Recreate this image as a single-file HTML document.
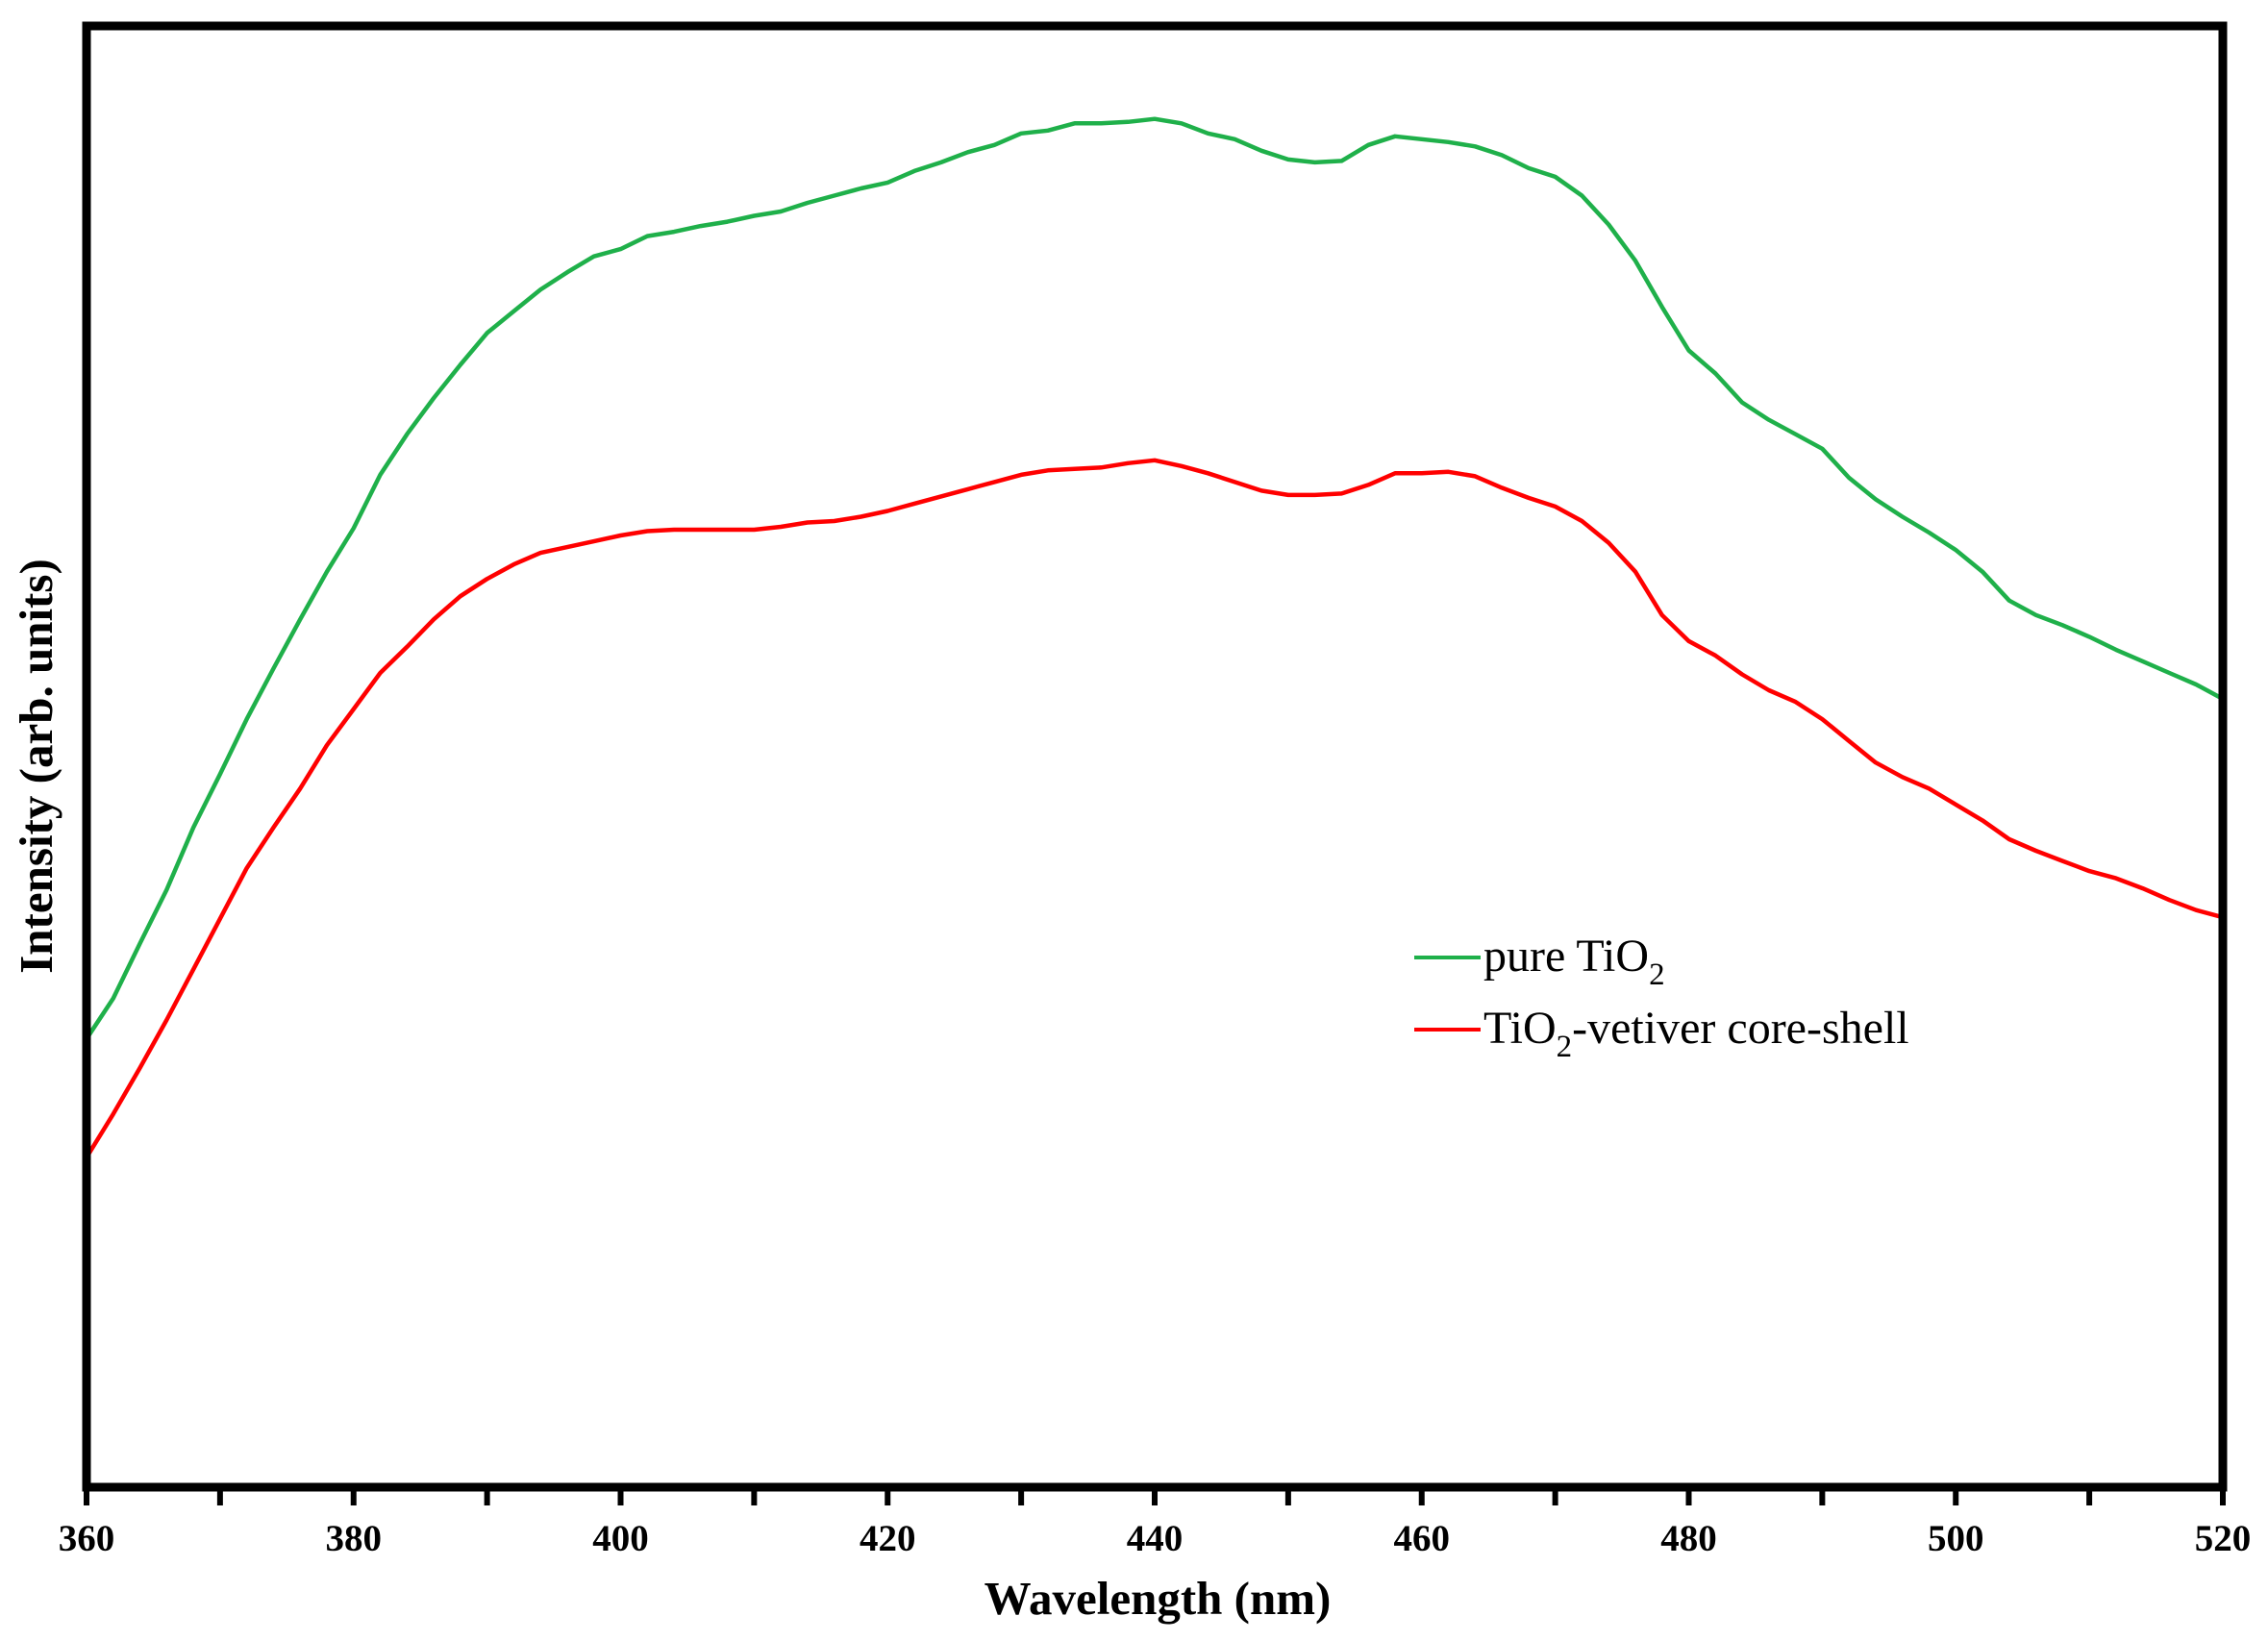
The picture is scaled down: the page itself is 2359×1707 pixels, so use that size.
<!DOCTYPE html>
<html><head><meta charset="utf-8"><style>
body{margin:0;background:#fff}
svg{display:block}
text{font-family:"Liberation Serif",serif;fill:#000}
</style></head><body>
<svg id="chart" width="2359" height="1707" viewBox="0 0 2359 1707">
<g id="ticks"></g>
<g id="lines"></g>
<rect x="90" y="27" width="2222" height="1520" fill="none" stroke="#000" stroke-width="9"/>
<text x="1204" y="1679" font-size="49" font-weight="bold" text-anchor="middle">Wavelength (nm)</text>
<text transform="translate(54,797) rotate(-90)" font-size="49" font-weight="bold" text-anchor="middle">Intensity (arb. units)</text>
<g>
<line x1="1471" y1="996" x2="1540" y2="996" stroke="#1fb04a" stroke-width="4"/>
<text x="1543" y="1010" font-size="48">pure TiO<tspan font-size="33" dy="14">2</tspan></text>
<line x1="1471" y1="1071" x2="1540" y2="1071" stroke="#ff0000" stroke-width="4"/>
<text x="1543" y="1085" font-size="48">TiO<tspan font-size="33" dy="14">2</tspan><tspan dy="-14">-vetiver core-shell</tspan></text>
</g>
</svg>
<script>
const wavelengths=[360,362,364,366,368,370,372,374,376,378,380,382,384,386,388,390,392,394,396,398,400,402,404,406,408,410,412,414,416,418,420,422,424,426,428,430,432,434,436,438,440,442,444,446,448,450,452,454,456,458,460,462,464,466,468,470,472,474,476,478,480,482,484,486,488,490,492,494,496,498,500,502,504,506,508,510,512,514,516,518,520];
const pureY=[718,690,652,615,572,535,497,462,428,395,365,328,300,275,252,230,215,200,188,177,172,163,160,156,153,149,146,140,135,130,126,118,112,105,100,92,90,85,85,84,82,85,92,96,104,110,112,111,100,94,96,98,101,107,116,122,135,155,180,212,242,258,278,290,300,310,330,345,357,368,380,395,415,425,432,440,449,457,465,473,483];
const coreY=[800,770,738,705,670,635,600,572,545,515,490,465,447,428,412,400,390,382,378,374,370,367,366,366,366,366,364,361,360,357,353,348,343,338,333,328,325,324,323,320,318,322,327,333,339,342,342,341,335,327,327,326,329,337,344,350,360,375,395,425,443,453,466,477,485,497,512,527,537,545,556,567,580,588,595,602,607,614,622,629,634];
const pureTiO2=pureY.map(v=>1028-v);
const coreShell=coreY.map(v=>1028-v);
const tickValues=[360,370,380,390,400,410,420,430,440,450,460,470,480,490,500,510,520];
const tickLabels=["360","380","400","420","440","460","480","500","520"];
const NS="http://www.w3.org/2000/svg";
function xs(w){return 90+(w-360)/160*2222;}
function ys(v){return 1547-v*1.5045;}
const tg=document.getElementById('ticks');
tickValues.forEach(t=>{
  const l=document.createElementNS(NS,'line');
  l.setAttribute('x1',xs(t));l.setAttribute('x2',xs(t));
  l.setAttribute('y1',1547);l.setAttribute('y2',1566);
  l.setAttribute('stroke','#000');l.setAttribute('stroke-width','6');
  
  
  tg.appendChild(l);
});
tickLabels.forEach(s=>{
  const tx=document.createElementNS(NS,'text');
  tx.setAttribute('x',xs(+s));tx.setAttribute('y',1613);
  tx.setAttribute('font-size','39');tx.setAttribute('font-weight','bold');
  tx.setAttribute('text-anchor','middle');
  tx.textContent=s;
  
  
  tg.appendChild(tx);
});
const lg=document.getElementById('lines');
[[pureTiO2,'#1fb04a','line-pure-tio2'],[coreShell,'#ff0000','line-tio2-vetiver']].forEach(([vals,c,n])=>{
  const p=document.createElementNS(NS,'polyline');
  p.setAttribute('points',vals.map((v,i)=>xs(wavelengths[i]).toFixed(1)+','+ys(v).toFixed(1)).join(' '));
  p.setAttribute('fill','none');p.setAttribute('stroke',c);p.setAttribute('stroke-width','4.5');
  p.setAttribute('stroke-linejoin','round');
  
  
  lg.appendChild(p);
});
</script>
</body></html>
